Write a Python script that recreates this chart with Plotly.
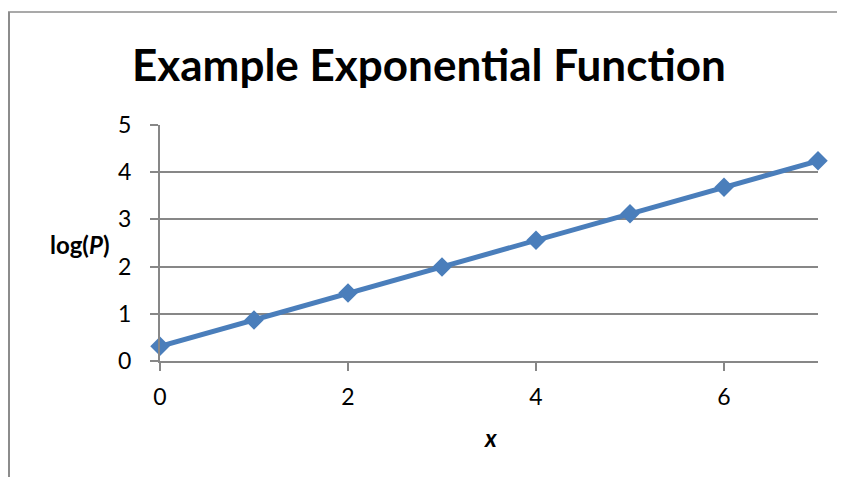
import plotly.graph_objects as go

x_vals = [0, 1, 2, 3, 4, 5, 6, 7]
logp_vals = [0.31, 0.87, 1.44, 1.99, 2.56, 3.12, 3.68, 4.24]
title_text = "Example Exponential Function"
y_title = "log(<i>P</i>)"
x_title = "<i>x</i>"

FONT = "Lato, Carlito, Calibri, 'Open Sans', sans-serif"
GRID = "#878787"

OFF = 8  # default page body margin
W, H = 845 - OFF, 477 - OFF
# target screen positions of plot area
SX0, SX1, SY0, SY1 = 160, 818, 125, 361
L, R, T, B = SX0 - OFF, W - (SX1 - OFF), SY0 - OFF, H - (SY1 - OFF)
pw = W - L - R
ph = H - T - B

def px2paper_x(px):
    return (px - SX0) / pw

def px2paper_y(py):
    return (SY1 - py) / ph

fig = go.Figure()
fig.add_trace(go.Scatter(
    x=x_vals, y=logp_vals, mode="lines+markers",
    line=dict(color="#4A7EBB", width=5),
    marker=dict(symbol="diamond", size=15, color="#4A7EBB"),
    cliponaxis=False, showlegend=False,
))

fig.update_layout(
    width=W, height=H,
    margin=dict(l=L, r=R, t=T, b=B),
    paper_bgcolor="white", plot_bgcolor="white",
    font=dict(family=FONT, size=23, color="black"),
    xaxis=dict(range=[0, 7], dtick=2, tick0=0, showgrid=False, zeroline=False,
               showline=True, linecolor=GRID, linewidth=2,
               ticks="outside", ticklen=8, tickcolor=GRID, tickwidth=2,
               tickfont=dict(size=23), ticklabelstandoff=6, fixedrange=True),
    yaxis=dict(range=[0, 5], dtick=1, showgrid=True, gridcolor=GRID, gridwidth=1.5,
               zeroline=False, showline=True, linecolor=GRID, linewidth=2,
               ticks="outside", ticklen=8, tickcolor=GRID, tickwidth=2,
               tickfont=dict(size=23), ticklabelstandoff=14, fixedrange=True),
    annotations=[
        dict(text="<b>" + title_text + "</b>", xref="paper", yref="paper",
             x=px2paper_x(429), y=px2paper_y(64), showarrow=False,
             font=dict(size=44, family=FONT), xanchor="center", yanchor="middle"),
        dict(text="<b>" + y_title + "</b>", xref="paper", yref="paper",
             x=px2paper_x(79), y=px2paper_y(244), showarrow=False,
             font=dict(size=24, family=FONT), xanchor="center", yanchor="middle"),
        dict(text="<b>" + x_title + "</b>", xref="paper", yref="paper",
             x=px2paper_x(490), y=px2paper_y(437), showarrow=False,
             font=dict(size=24, family=FONT), xanchor="center", yanchor="middle"),
    ],
    shapes=[
        dict(type="line", xref="paper", yref="paper",
             x0=px2paper_x(OFF + 1), x1=px2paper_x(OFF + 1), y0=px2paper_y(12), y1=px2paper_y(480),
             line=dict(color="#8C8C8C", width=2)),
        dict(type="line", xref="paper", yref="paper",
             x0=px2paper_x(OFF), x1=px2paper_x(850), y0=px2paper_y(12), y1=px2paper_y(12),
             line=dict(color="#8C8C8C", width=1.5)),
    ],
)

fig.write_html("out.html")
